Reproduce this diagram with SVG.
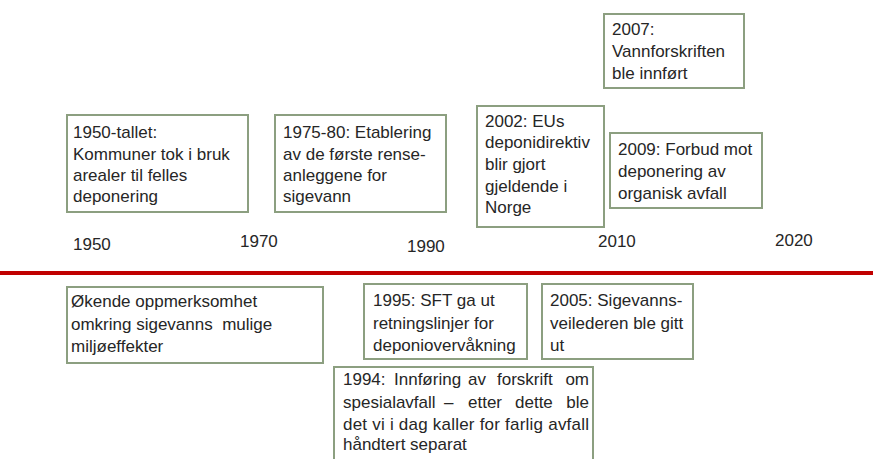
<svg xmlns="http://www.w3.org/2000/svg" width="873" height="459" viewBox="0 0 873 459">
<style>
text{font-family:"Liberation Sans",Arial,sans-serif;font-size:17px;fill:#262626}
.box{fill:#fff;stroke:#8c9f80;stroke-width:2}
.axis{font-size:17px}
.end{text-anchor:end}
.pre{white-space:pre}
</style>
<rect width="873" height="459" fill="#fff"/>
<g id="timeline">
<line x1="0" y1="273" x2="873" y2="273" stroke="#c00000" stroke-width="4"/>
<text class="axis" x="73" y="250">1950</text>
<text class="axis" x="240" y="247">1970</text>
<text class="axis" x="407" y="252">1990</text>
<text class="axis" x="598" y="247">2010</text>
<text class="axis" x="775" y="246">2020</text>
</g>
<g id="connectors"></g>
<g id="n1950">
<rect class="box" x="67" y="115" width="181" height="97"/>
<text x="73" y="138">1950-tallet:</text>
<text x="73" y="160">Kommuner tok i bruk</text>
<text x="73" y="181">arealer til felles</text>
<text x="73" y="202">deponering</text>
</g>
<g id="n1975">
<rect class="box" x="275" y="115" width="171" height="97"/>
<text x="283" y="138">1975-80: Etablering</text>
<text x="283" y="160">av de første rense-</text>
<text x="283" y="181">anleggene for</text>
<text x="283" y="202">sigevann</text>
</g>
<g id="n2002">
<rect class="box" x="477" y="106" width="127" height="121"/>
<text x="485" y="127">2002: EUs</text>
<text x="485" y="148">deponidirektiv</text>
<text x="485" y="170">blir gjort</text>
<text x="485" y="192">gjeldende i</text>
<text x="485" y="213">Norge</text>
</g>
<g id="n2007">
<rect class="box" x="604" y="14" width="140" height="74"/>
<text x="612" y="35">2007:</text>
<text x="612" y="57">Vannforskriften</text>
<text x="612" y="79">ble innført</text>
</g>
<g id="n2009">
<rect class="box" x="610" y="133" width="152" height="75"/>
<text x="618" y="155">2009: Forbud mot</text>
<text x="618" y="177">deponering av</text>
<text x="618" y="199">organisk avfall</text>
</g>
<g id="nOkende">
<rect class="box" x="67" y="287" width="256" height="76"/>
<text x="71" y="307">Økende oppmerksomhet</text>
<text class="pre" x="71" y="330">omkring sigevanns  mulige</text>
<text x="71" y="352">miljøeffekter</text>
</g>
<g id="n1995">
<rect class="box" x="364" y="284" width="163" height="75"/>
<text x="373" y="306">1995: SFT ga ut</text>
<text x="373" y="329">retningslinjer for</text>
<text x="373" y="351">deponiovervåkning</text>
</g>
<g id="n2005">
<rect class="box" x="542" y="284" width="151" height="75"/>
<text x="550" y="306">2005: Sigevanns-</text>
<text x="550" y="329">veilederen ble gitt</text>
<text x="550" y="351">ut</text>
</g>
<g id="n1994">
<rect class="box" x="334" y="367" width="259" height="100"/>
<text x="343" y="385">1994:</text>
<text x="394" y="385">Innføring</text>
<text x="468" y="385">av</text>
<text x="497" y="385">forskrift</text>
<text class="end" x="589" y="385">om</text>
<text x="343" y="408">spesialavfall</text>
<text x="444" y="408">–</text>
<text x="468" y="408">etter</text>
<text x="515" y="408">dette</text>
<text class="end" x="589" y="408">ble</text>
<text x="343" y="430" textLength="246" lengthAdjust="spacing">det vi i dag kaller for farlig avfall</text>
<text x="343" y="450">håndtert separat</text>
</g>
</svg>
